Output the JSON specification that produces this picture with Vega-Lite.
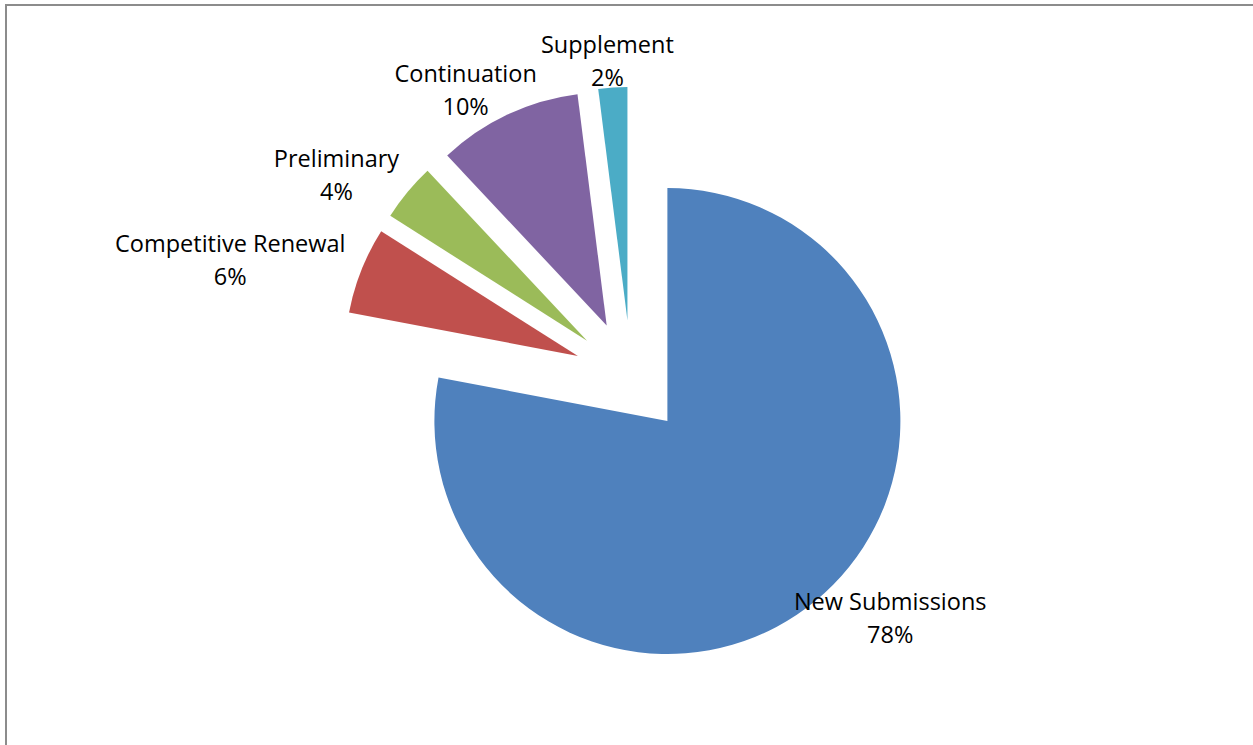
{
  "$schema": "https://vega.github.io/schema/vega-lite/v6.json",
  "width": 1253,
  "height": 745,
  "autosize": {"type": "fit", "contains": "padding"},
  "padding": {"left": 6, "top": 5, "right": -3, "bottom": -3},
  "background": "white",
  "config": {"view": {"stroke": "#8c8c8c", "strokeWidth": 2}},
  "data": {
    "values": [
      {"order": 1, "name": "New Submissions", "value": 78},
      {"order": 2, "name": "Competitive Renewal", "value": 6},
      {"order": 3, "name": "Preliminary", "value": 4},
      {"order": 4, "name": "Continuation", "value": 10},
      {"order": 5, "name": "Supplement", "value": 2}
    ]
  },
  "transform": [
    {"window": [{"op": "sum", "field": "value", "as": "cum"}], "sort": [{"field": "order"}], "frame": [null, 0]},
    {"calculate": "datum.cum - datum.value", "as": "start"},
    {"calculate": "(datum.start + datum.value / 2) / 100 * 2 * PI", "as": "mid"},
    {"calculate": "0.245 * sin(datum.mid)", "as": "cx"},
    {"calculate": "0.245 * cos(datum.mid)", "as": "cy"},
    {"calculate": "datum.cx + (258 + length(datum.name) * 6.1) / 233 * sin(datum.mid)", "as": "lx"},
    {"calculate": "datum.cy + 258 / 233 * cos(datum.mid)", "as": "ly"},
    {"calculate": "datum.name + '\\n' + datum.value + '%'", "as": "label"}
  ],
  "encoding": {
    "x": {"field": "cx", "type": "quantitative", "scale": {"domain": [-2.682, 2.682], "nice": false, "zero": false}, "axis": null},
    "y": {"field": "cy", "type": "quantitative", "scale": {"domain": [-1.592, 1.597], "nice": false, "zero": false}, "axis": null}
  },
  "layer": [
    {
      "mark": {"type": "arc", "radius": 233},
      "encoding": {
        "theta": {"field": "start", "type": "quantitative", "stack": null, "scale": {"domain": [0, 100], "range": [0, 6.283185307179586]}},
        "theta2": {"field": "cum"},
        "color": {
          "field": "name", "type": "nominal", "legend": null,
          "scale": {
            "domain": ["New Submissions", "Competitive Renewal", "Preliminary", "Continuation", "Supplement"],
            "range": ["#4F81BD", "#C0504D", "#9BBB59", "#8064A2", "#4BACC6"]
          }
        }
      }
    },
    {
      "mark": {"type": "text", "align": "center", "baseline": "middle", "dy": -16.5, "lineBreak": "\n", "lineHeight": 33, "font": "Open Sans", "fontSize": 23.5, "color": "#000000"},
      "encoding": {
        "x": {"field": "lx", "type": "quantitative"},
        "y": {"field": "ly", "type": "quantitative"},
        "text": {"field": "label", "type": "nominal"}
      }
    }
  ]
}
